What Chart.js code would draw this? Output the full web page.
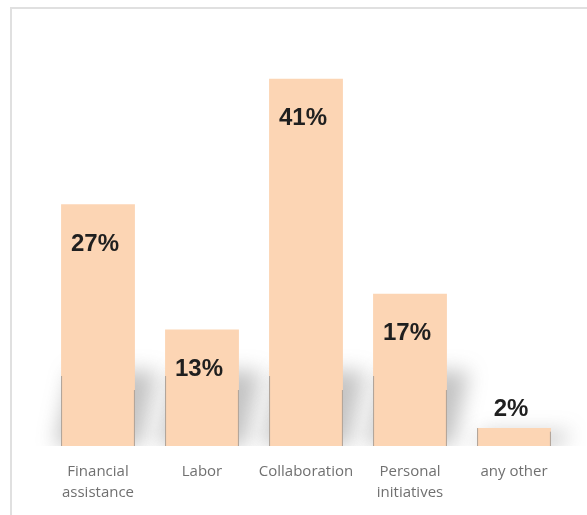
<!DOCTYPE html>
<html>
<head>
<meta charset="utf-8">
<script src="https://cdn.jsdelivr.net/npm/chart.js@4.4.1/dist/chart.umd.min.js"></script>
<style>
  html, body { margin: 0; padding: 0; background: #fff; }
  #wrap { position: relative; width: 587px; height: 515px; overflow: hidden; }
  #frame { position: absolute; left: 10px; top: 7px; width: 600px; height: 600px;
           border-top: 2px solid #e0e0e0; border-left: 2px solid #e0e0e0; }
  canvas { position: absolute; left: 0; top: 0; }
</style>
</head>
<body>
<div id="wrap">
  <div id="frame"></div>
  <canvas id="chart" width="587" height="515"></canvas>
</div>
<script>
// Support breakdown (percent)
const categories = [['Financial', 'assistance'], 'Labor', 'Collaboration', ['Personal', 'initiatives'], 'any other'];
const shares = [27, 13, 41, 17, 2];
const barColor = '#fcd5b4';

// soft grey cast shadow behind each bar + value labels
const shadowPlugin = {
    id: 'barShadow',
    beforeDatasetsDraw(chart) {
        const ctx = chart.ctx;
        const area = chart.chartArea;
        const bars = chart.getDatasetMeta(0).data;
        ctx.save();
        ctx.beginPath();
        ctx.rect(area.left - 20, area.top, area.width + 40, area.bottom - area.top);
        ctx.clip();
        ctx.filter = 'blur(10px)';
        ctx.fillStyle = 'rgba(90, 90, 90, 0.36)';
        bars.forEach(bar => {
            const half = bar.width / 2;
            const h = Math.min(bar.base - bar.y, 100);
            ctx.beginPath();
            ctx.moveTo(bar.x - half - 6, bar.base);
            ctx.lineTo(bar.x + half + 6, bar.base);
            ctx.lineTo(bar.x + half + 22, bar.base - h * 0.75);
            ctx.lineTo(bar.x - half + 10, bar.base - h * 0.75);
            ctx.closePath();
            ctx.fill();
        });
        ctx.restore();
    },
    afterDatasetsDraw(chart) {
        const ctx = chart.ctx;
        const bars = chart.getDatasetMeta(0).data;
        ctx.save();
        // thin grey edges on the lower part of each bar
        ctx.strokeStyle = 'rgba(140, 140, 140, 0.7)';
        ctx.lineWidth = 1;
        bars.forEach(bar => {
            const half = bar.width / 2;
            const h = Math.min(bar.base - bar.y, 70);
            ctx.beginPath();
            ctx.moveTo(bar.x - half + 0.5, bar.base);
            ctx.lineTo(bar.x - half + 0.5, bar.base - h);
            ctx.moveTo(bar.x + half - 0.5, bar.base);
            ctx.lineTo(bar.x + half - 0.5, bar.base - h * 0.8);
            ctx.stroke();
        });
        ctx.font = 'bold 24px "Liberation Sans", Arial, sans-serif';
        ctx.fillStyle = '#1f1f1f';
        ctx.textAlign = 'center';
        ctx.textBaseline = 'middle';
        bars.forEach((bar, i) => {
            const h = bar.base - bar.y;
            const y = h > 60 ? bar.y + 40 : bar.y - 19;
            ctx.fillText(shares[i] + '%', bar.x - 3, y);
        });
        ctx.restore();
    }
};

new Chart(document.getElementById('chart').getContext('2d'), {
    type: 'bar',
    data: {
        labels: categories,
        datasets: [{
            data: shares,
            backgroundColor: barColor,
            borderWidth: 0,
            categoryPercentage: 0.71,
            barPercentage: 1.0
        }]
    },
    options: {
        responsive: false,
        animation: false,
        layout: { padding: { left: 46, right: 21, top: 43, bottom: 0 } },
        plugins: { legend: { display: false }, tooltip: { enabled: false } },
        scales: {
            x: {
                grid: { display: false, drawTicks: false },
                border: { display: false },
                afterFit(scale) { scale.height = 69; },
                ticks: {
                    color: '#707070',
                    padding: 15,
                    maxRotation: 0,
                    autoSkip: false,
                    font: { family: '"Open Sans", sans-serif', size: 15, lineHeight: 1.4 }
                }
            },
            y: {
                display: false,
                min: 0,
                max: 45
            }
        }
    },
    plugins: [shadowPlugin]
});
</script>
</body>
</html>
